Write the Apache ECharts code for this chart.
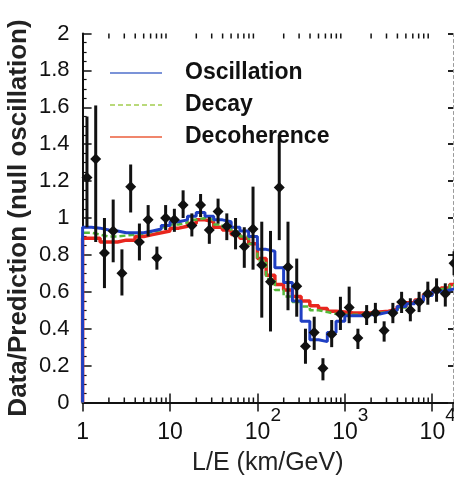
<!DOCTYPE html>
<html><head><meta charset="utf-8">
<script src="https://cdn.jsdelivr.net/npm/echarts@6/dist/echarts.min.js"></script>
<style>html,body{margin:0;padding:0;background:#fff}#c{width:454px;height:482px}</style>
</head><body><div id="c"></div>
<script>
// ---- data (L/E bins: 0.1 decade wide, starting at 1 km/GeV) ----
const binWidthLog10 = 0.1;
const xMin = 1, xMax = 17300;
const dataRatio = [1.22,1.32,0.81,0.93,0.70,1.17,0.87,0.99,0.785,1.00,0.99,1.07,0.96,1.07,0.935,1.035,0.955,0.915,0.845,0.94,0.745,0.655,1.165,0.735,0.63,0.305,0.38,0.185,0.37,0.48,0.515,0.35,0.475,0.485,0.39,0.485,0.545,0.50,0.545,0.59,0.61,0.59,0.755];
const errTop  = [1.55,1.61,1.00,1.10,0.83,1.29,0.97,1.07,0.845,1.07,1.05,1.15,1.025,1.13,1.005,1.105,1.025,1.00,0.95,1.17,0.98,0.93,1.45,0.98,0.78,0.40,0.465,0.24,0.447,0.573,0.628,0.40,0.528,0.54,0.44,0.54,0.60,0.565,0.60,0.655,0.673,0.646,0.82];
const errBot  = [0.95,0.87,0.62,0.76,0.58,1.03,0.77,0.90,0.72,0.935,0.925,1.00,0.90,1.005,0.86,0.97,0.88,0.83,0.73,0.72,0.46,0.385,0.88,0.50,0.465,0.21,0.285,0.12,0.30,0.393,0.43,0.29,0.42,0.43,0.33,0.43,0.485,0.44,0.49,0.53,0.546,0.52,0.69];
const oscillation = [0.95,0.945,0.935,0.93,0.92,0.92,0.92,0.93,0.94,0.96,0.98,0.99,1.01,1.03,1.01,0.99,0.98,0.95,0.93,0.90,0.83,0.82,0.73,0.65,0.55,0.44,0.34,0.33,0.38,0.44,0.47,0.47,0.475,0.48,0.49,0.50,0.52,0.535,0.55,0.58,0.60,0.61,0.62];
const decay = [0.92,0.91,0.90,0.90,0.905,0.91,0.915,0.925,0.935,0.95,0.965,0.975,0.99,1.00,0.99,0.965,0.95,0.925,0.90,0.86,0.77,0.67,0.61,0.575,0.545,0.52,0.50,0.49,0.48,0.475,0.475,0.475,0.48,0.485,0.49,0.50,0.515,0.535,0.55,0.58,0.60,0.615,0.635];
const decoherence = [0.89,0.89,0.87,0.87,0.88,0.88,0.90,0.91,0.92,0.93,0.945,0.955,0.97,0.99,0.98,0.95,0.935,0.91,0.89,0.86,0.78,0.69,0.64,0.61,0.575,0.55,0.525,0.51,0.495,0.49,0.485,0.485,0.485,0.49,0.495,0.505,0.52,0.54,0.555,0.585,0.605,0.62,0.64];
const seriesNames = ['Oscillation','Decay','Decoherence'];
const yTicks = [0,0.2,0.4,0.6,0.8,1,1.2,1.4,1.6,1.8,2];

const FONT = '"Liberation Sans", Arial, Helvetica, sans-serif';
function binEdge(k){ return Math.pow(10, k*binWidthLog10); }
function binCenter(k){ return Math.pow(10, (k+0.5)*binWidthLog10); }
function stepPoints(vals){
  const pts = [[binEdge(0),0]];
  vals.forEach((v,k)=>{ pts.push([binEdge(k),v]); pts.push([binEdge(k+1),v]); });
  return pts;
}
const points = dataRatio.map((v,k)=>[binCenter(k), v, errTop[k], errBot[k]]);
const minorVals = [];
for (let d=1; d<=1000; d*=10) for (let m=2; m<=9; m++) minorVals.push([m*d, 0]);

const dashIcon = 'path://M0,0h5v2h-5z M8,0h5v2h-5z M16,0h5v2h-5z M24,0h5v2h-5z M32,0h5v2h-5z M40,0h5v2h-5z M48,0h4v2h-4z';

const chart = echarts.init(document.getElementById('c'), null, {renderer:'canvas'});
const xCommon = {type:'log', logBase:10, min:xMin, max:xMax, splitLine:{show:false}, minorTick:{show:false}};
chart.setOption({
  animation:false,
  backgroundColor:'#fff',
  grid:{left:82.6, right:1, top:33.5, bottom:79.5, containLabel:false, outerBoundsMode:'none'},
  legend:{
    orient:'vertical', left:105, top:56, itemWidth:52, itemHeight:2, itemGap:8,
    data:[
      {name:'Oscillation', icon:'rect', itemStyle:{color:'#7b93d8'}},
      {name:'Decay', icon:dashIcon, itemStyle:{color:'#b9d97a'}},
      {name:'Decoherence', icon:'rect', itemStyle:{color:'#f0866c'}}
    ],
    textStyle:{fontFamily:FONT, fontSize:23, fontWeight:'bold', color:'#111', padding:[0,0,0,18], lineHeight:24}
  },
  xAxis:[
    Object.assign({}, xCommon, {position:'bottom',
      name:'L/E (km/GeV)', nameLocation:'middle', nameGap:48, nameMoveOverlap:false,
      nameTextStyle:{fontFamily:FONT, fontSize:25, color:'#222'},
      axisLine:{lineStyle:{color:'#111', width:2}},
      axisTick:{inside:true, length:9, lineStyle:{color:'#111', width:1.5}},
      axisLabel:{margin:4, showMaxLabel:false,
        formatter:function(val){
          const lg = Math.log10(val), e = Math.round(lg);
          if (Math.abs(lg-e) > 1e-6) return '';
          if (e===0) return '{m|1}';
          if (e===1) return '{m|10}';
          return '{sp|}{m|10}{s|'+e+'}';
        },
        rich:{
          m:{fontFamily:FONT, fontSize:23, color:'#111', lineHeight:38, verticalAlign:'bottom'},
          s:{fontFamily:FONT, fontSize:19, color:'#111', lineHeight:38, verticalAlign:'top'},
          sp:{width:11}
        }}
    }),
    Object.assign({}, xCommon, {position:'top',
      axisLine:{lineStyle:{color:'#111', width:2}},
      axisTick:{inside:true, length:9, lineStyle:{color:'#111', width:1.5}},
      axisLabel:{show:false}})
  ],
  yAxis:[
    {type:'value', min:0, max:2, interval:0.2, position:'left',
     name:'Data/Prediction (null oscillation)', nameLocation:'middle', nameGap:51, nameMoveOverlap:false,
     nameTextStyle:{fontFamily:FONT, fontSize:26, fontWeight:'bold', color:'#222'},
     axisLine:{show:true, lineStyle:{color:'#111', width:2}},
     axisTick:{inside:true, length:9, lineStyle:{color:'#111', width:1.5}},
     minorTick:{show:true, splitNumber:4, length:4, lineStyle:{color:'#111', width:1.2}},
     splitLine:{show:false}, minorSplitLine:{show:false},
     axisLabel:{fontFamily:FONT, fontSize:22, color:'#111', margin:13,
       formatter:function(v){ const t = yTicks.find(x=>Math.abs(x-v)<1e-9); return t===undefined ? '' : String(t); }}},
    {type:'value', min:0, max:2, interval:0.2, position:'right',
     axisLine:{show:true, lineStyle:{color:'#9a9a9a', width:1, type:[3,3]}},
     axisTick:{show:true, inside:true, length:5, lineStyle:{color:'#222', width:2}},
     axisLabel:{show:false}, splitLine:{show:false}}
  ],
  series:[
    {name:'Decoherence', type:'line', data:stepPoints(decoherence), symbol:'none', clip:true,
     lineStyle:{color:'#e8261e', width:3.5}, itemStyle:{color:'#e8261e'}, z:3},
    {name:'Decay', type:'line', data:stepPoints(decay), symbol:'none', clip:true,
     lineStyle:{color:'#55b83a', width:2.5, type:[6,3]}, itemStyle:{color:'#55b83a'}, z:4},
    {name:'Oscillation', type:'line', data:stepPoints(oscillation), symbol:'none', clip:true,
     lineStyle:{color:'#1f3fc4', width:3}, itemStyle:{color:'#1f3fc4'}, z:5},
    {type:'custom', name:'data', data:points, clip:false, z:10,
     encode:{x:0, y:1},
     renderItem:function(params, api){
       const x = api.value(0);
       const p = api.coord([x, api.value(1)]);
       const t = api.coord([x, api.value(2)]);
       const b = api.coord([x, api.value(3)]);
       const r = 5.5;
       return {type:'group', children:[
         {type:'line', shape:{x1:p[0], y1:t[1], x2:p[0], y2:b[1]}, style:{stroke:'#111', lineWidth:3}},
         {type:'polygon', shape:{points:[[p[0]-r,p[1]],[p[0],p[1]-r],[p[0]+r,p[1]],[p[0],p[1]+r]]}, style:{fill:'#111'}}
       ]};
     }},
    {type:'custom', name:'minorTicks', data:minorVals, clip:false, z:11, silent:true,
     encode:{x:0, y:1},
     renderItem:function(params, api){
       const v = api.value(0);
       const b = api.coord([v, 0]);
       const t = api.coord([v, 2]);
       return {type:'group', children:[
         {type:'line', shape:{x1:b[0], y1:b[1], x2:b[0], y2:b[1]-5}, style:{stroke:'#111', lineWidth:1.5}},
         {type:'line', shape:{x1:t[0], y1:t[1], x2:t[0], y2:t[1]+5}, style:{stroke:'#111', lineWidth:1.5}}
       ]};
     }}
  ]
});
</script></body></html>
